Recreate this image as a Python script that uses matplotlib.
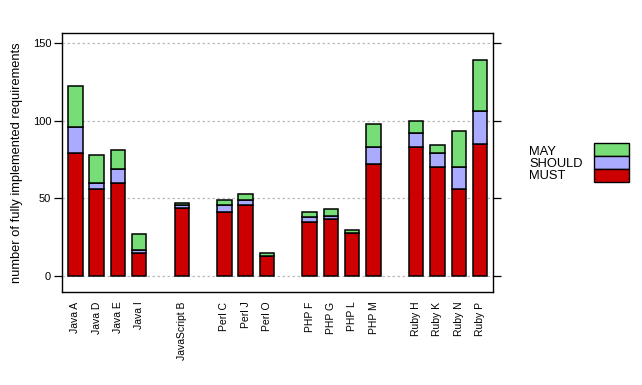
import matplotlib
matplotlib.use("Agg")
import matplotlib.pyplot as plt
from matplotlib.patches import Rectangle
import numpy as np

plt.rcParams['font.family'] = ['Liberation Sans', 'DejaVu Sans']

# implementations, slot positions (gaps between language groups)
names = ['Java A', 'Java D', 'Java E', 'Java I', 'JavaScript B',
         'Perl C', 'Perl J', 'Perl O',
         'PHP F', 'PHP G', 'PHP L', 'PHP M',
         'Ruby H', 'Ruby K', 'Ruby N', 'Ruby P']
slots = [0, 1, 2, 3, 5, 7, 8, 9, 11, 12, 13, 14, 16, 17, 18, 19]

must = [79, 56, 60, 15, 44, 41, 46, 13, 35, 37, 28, 72, 83, 70, 56, 85]
should = [17, 4, 9, 2, 2, 5, 3, 0, 3, 2, 0, 11, 9, 9, 14, 21]
may = [26, 18, 12, 10, 1, 3, 4, 2, 3, 4, 2, 15, 8, 5, 23, 33]

levels = ['MUST', 'SHOULD', 'MAY']
colors = ['#CC0000', '#AAAAFF', '#77DD77']

fig = plt.figure(figsize=(6.42, 3.85), dpi=100)
ax = fig.add_axes([0.097, 0.2416, 0.671, 0.672])

x = np.array(slots)
bottom = np.zeros(len(x))
for vals, col in zip([must, should, may], colors):
    ax.bar(x, vals, width=0.68, bottom=bottom, color=col,
           edgecolor='black', linewidth=1.1, zorder=3)
    bottom += np.array(vals)

ax.set_xlim(-0.61, 19.61)
ax.set_ylim(-10, 156)
ax.set_yticks([0, 50, 100, 150])
ax.yaxis.grid(True, color='#BBBBBB', linestyle=(0, (2, 2)), linewidth=0.9, zorder=0)
ax.tick_params(axis='y', which='both', left=True, right=True, direction='out',
               length=6, width=0.9, labelsize=8, pad=2)
ax.set_xticks(x)
ax.set_xticklabels(names, rotation=90, fontsize=7.5)
ax.tick_params(axis='x', length=0, pad=7)
for s in ax.spines.values():
    s.set_linewidth(1)
ax.set_ylabel('number of fully implemented requirements', fontsize=9.3, labelpad=7)

# legend drawn at the right of the plot
W, H = 642, 385
for i, (lab, col) in enumerate(zip(levels[::-1], colors[::-1])):
    top = 143.3 + 13 * i
    fig.patches.append(Rectangle((594.3 / W, 1 - (top + 13) / H), 35 / W, 13 / H,
                                 transform=fig.transFigure, facecolor=col,
                                 edgecolor='black', linewidth=1))
    fig.text(529 / W, 1 - (151.7 + 12 * i) / H, lab, fontsize=9.3, va='center', ha='left')

fig.savefig('out.png', dpi=100)
